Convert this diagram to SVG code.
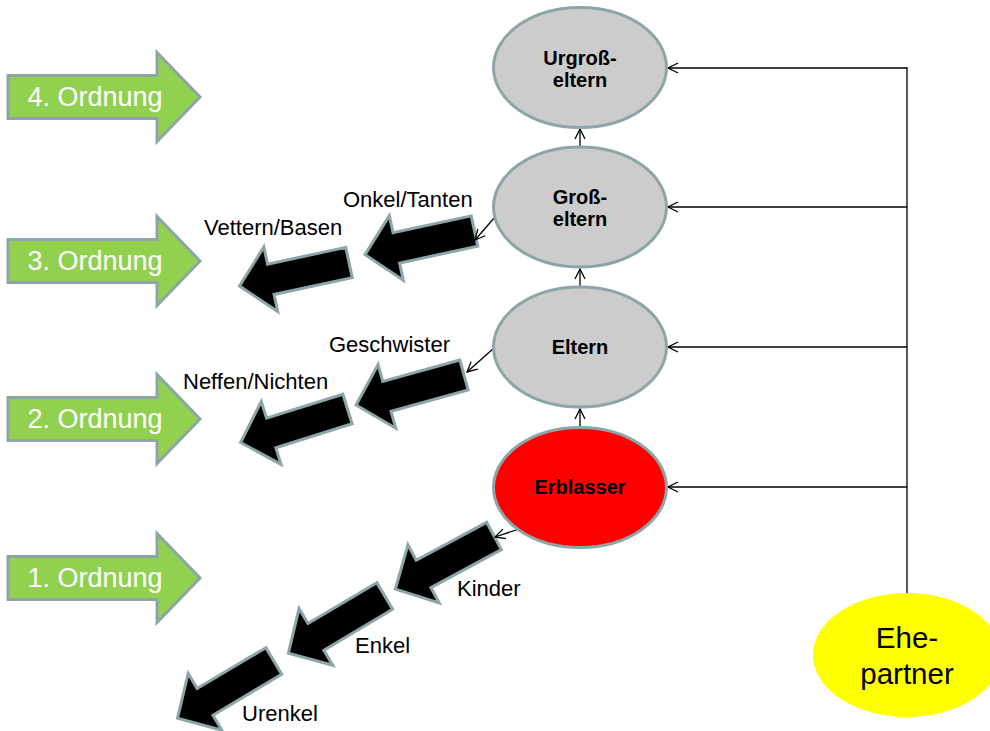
<svg xmlns="http://www.w3.org/2000/svg" width="990" height="731" viewBox="0 0 990 731">
<style>
.green{fill:#92d050;stroke:#8ea5a8;stroke-width:3;stroke-linejoin:miter}
.gtxt{font-family:"Liberation Sans",Arial,sans-serif;font-size:27px;fill:#ffffff;text-anchor:middle}
.node{fill:#cccccc;stroke:#8ea5a8;stroke-width:3}
.red{fill:#ff0000;stroke:#8ea5a8;stroke-width:3}
.ntxt{font-family:"Liberation Sans",Arial,sans-serif;font-size:20px;font-weight:bold;fill:#000;text-anchor:middle}
.lbl{font-family:"Liberation Sans",Arial,sans-serif;font-size:22px;fill:#000}
.blk{fill:#000;stroke:#8ea5a8;stroke-width:3;stroke-linejoin:miter}
.con{stroke:#000;stroke-width:1.3;fill:none}
.ehe{font-family:"Liberation Sans",Arial,sans-serif;font-size:29.5px;fill:#000;text-anchor:middle}
</style>
<defs>
<marker id="oa" viewBox="0 0 12 12" refX="11" refY="6" markerWidth="12" markerHeight="12" markerUnits="userSpaceOnUse" orient="auto">
<path d="M1,1 L11,6 L1,11" fill="none" stroke="#000" stroke-width="1.3"/>
</marker>
<polygon id="barrow" points="0,-15.5 -80,-15.5 -80,-33 -112,0 -80,33 -80,15.5 0,15.5"/>
</defs>

<g id="ordnung4">
<polygon class="green" points="8,75.5 157,75.5 157,52.5 200,97 157,141.5 157,118.5 8,118.5"/>
<text class="gtxt" x="95" y="106">4. Ordnung</text>
</g>
<g id="ordnung3">
<polygon class="green" points="8,239.5 157,239.5 157,216.5 200,261 157,305.5 157,282.5 8,282.5"/>
<text class="gtxt" x="95" y="270">3. Ordnung</text>
</g>
<g id="ordnung2">
<polygon class="green" points="8,397.5 157,397.5 157,374.5 200,419 157,463.5 157,440.5 8,440.5"/>
<text class="gtxt" x="95" y="428">2. Ordnung</text>
</g>
<g id="ordnung1">
<polygon class="green" points="8,556.5 157,556.5 157,533.5 200,578 157,622.5 157,599.5 8,599.5"/>
<text class="gtxt" x="95" y="587">1. Ordnung</text>
</g>

<g id="arrows-black">
<use href="#barrow" class="blk" transform="translate(474.5,231) rotate(-12.2)"/>
<use href="#barrow" class="blk" transform="translate(349,262.5) rotate(-12.1)"/>
<use href="#barrow" class="blk" transform="translate(464,375) rotate(-15.5)"/>
<use href="#barrow" class="blk" transform="translate(347.5,409) rotate(-17.4)"/>
<use href="#barrow" class="blk" transform="translate(494,536) rotate(-28.3)"/>
<use href="#barrow" class="blk" transform="translate(384.7,596) rotate(-30.7)"/>
<use href="#barrow" class="blk" transform="translate(273.8,661) rotate(-30.7)"/>
</g>

<g id="labels">
<text class="lbl" x="343" y="207">Onkel/Tanten</text>
<text class="lbl" x="204" y="235">Vettern/Basen</text>
<text class="lbl" x="329" y="352">Geschwister</text>
<text class="lbl" x="183" y="389">Neffen/Nichten</text>
<text class="lbl" x="457" y="596">Kinder</text>
<text class="lbl" x="355" y="653">Enkel</text>
<text class="lbl" x="242" y="721">Urenkel</text>
</g>

<g id="connectors">
<line class="con" x1="580" y1="146" x2="580" y2="129" marker-end="url(#oa)"/>
<line class="con" x1="580" y1="286" x2="580" y2="269" marker-end="url(#oa)"/>
<line class="con" x1="580" y1="426" x2="580" y2="409" marker-end="url(#oa)"/>
<line class="con" x1="495" y1="217" x2="475" y2="240" marker-end="url(#oa)"/>
<line class="con" x1="494" y1="348" x2="467" y2="372" marker-end="url(#oa)"/>
<line class="con" x1="519" y1="529" x2="495" y2="537" marker-end="url(#oa)"/>
<line class="con" x1="907" y1="67" x2="907" y2="594"/>
<line class="con" x1="907" y1="68" x2="668" y2="68" marker-end="url(#oa)"/>
<line class="con" x1="907" y1="207" x2="668" y2="207" marker-end="url(#oa)"/>
<line class="con" x1="907" y1="347" x2="668" y2="347" marker-end="url(#oa)"/>
<line class="con" x1="907" y1="487" x2="668" y2="487" marker-end="url(#oa)"/>
</g>

<g id="urgrosseltern">
<ellipse class="node" cx="580" cy="67.5" rx="86.5" ry="60"/>
<text class="ntxt" x="580" y="65">Urgroß-</text>
<text class="ntxt" x="580" y="87">eltern</text>
</g>
<g id="grosseltern">
<ellipse class="node" cx="580" cy="207" rx="86.5" ry="60"/>
<text class="ntxt" x="580" y="204">Groß-</text>
<text class="ntxt" x="580" y="226">eltern</text>
</g>
<g id="eltern">
<ellipse class="node" cx="580" cy="347" rx="86.5" ry="60"/>
<text class="ntxt" x="580" y="354">Eltern</text>
</g>
<g id="erblasser">
<ellipse class="red" cx="580" cy="487.5" rx="86.5" ry="60"/>
<text class="ntxt" x="580" y="494">Erblasser</text>
</g>
<g id="ehepartner">
<ellipse cx="907" cy="655" rx="94" ry="62" fill="#ffff00"/>
<text class="ehe" x="907" y="648">Ehe-</text>
<text class="ehe" x="907" y="684">partner</text>
</g>
</svg>
